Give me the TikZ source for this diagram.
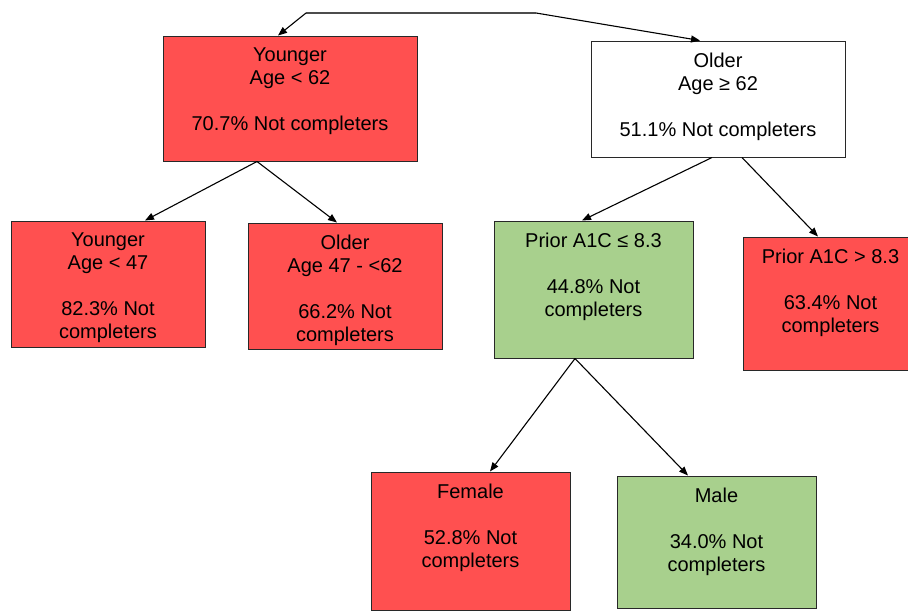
\documentclass[tikz,border=0pt]{standalone}
\usepackage{fontspec}
\setmainfont{Liberation Sans}
\usetikzlibrary{arrows.meta}
\definecolor{boxred}{RGB}{255,80,80}
\definecolor{boxgreen}{RGB}{168,208,141}
\definecolor{edge}{RGB}{40,40,40}
\begin{document}
\begin{tikzpicture}[x=1pt,y=-1pt,
  box/.style={draw=edge,line width=1pt,inner sep=0pt,rectangle},
  rbox/.style={box,fill=boxred},
  gbox/.style={box,fill=boxgreen},
  wbox/.style={box,fill=white},
  txt/.style={align=center,inner sep=0pt,anchor=north,yshift=-12pt,font=\fontsize{20}{23}\selectfont},
  arr/.style={line width=1.1pt,-{Triangle[length=9pt,width=7pt]}}]
\useasboundingbox (0,0) rectangle (908,611);
\clip (0,0) rectangle (908,611);
% boxes
\node[rbox,minimum width=254pt,minimum height=125pt] (yng) at (290,98.5) {};
\node[wbox,minimum width=254pt,minimum height=116pt] (old) at (718,99) {};
\node[rbox,minimum width=194pt,minimum height=126pt] (y47) at (108,284) {};
\node[rbox,minimum width=194pt,minimum height=126pt] (o47) at (345,286) {};
\node[gbox,minimum width=199pt,minimum height=137pt] (ple) at (593.5,289.5) {};
\node[rbox,minimum width=175pt,minimum height=133pt] (pgt) at (830.5,303.5) {};
\node[rbox,minimum width=199pt,minimum height=138pt] (fem) at (470.5,541) {};
\node[gbox,minimum width=199pt,minimum height=132pt] (mal) at (716.5,542) {};
% texts
\node[txt] (tyng) at (yng.north) {Younger\\Age < 62\\[23pt]70.7\% Not completers};
\node[txt] (told) at (old.north) {Older\\Age ≥ 62\\[23pt]51.1\% Not completers};
\node[txt] (ty47) at (y47.north) {Younger\\Age < 47\\[23pt]82.3\% Not\\completers};
\node[txt] (to47) at (o47.north) {Older\\Age 47 - <62\\[23pt]66.2\% Not\\completers};
\node[txt] (tple) at (ple.north) {Prior A1C ≤ 8.3\\[23pt]44.8\% Not\\completers};
\node[txt] (tpgt) at (pgt.north) {Prior A1C > 8.3\\[23pt]63.4\% Not\\completers};
\node[txt] (tfem) at (fem.north) {Female\\[23pt]52.8\% Not\\completers};
\node[txt] (tmal) at (mal.north) {Male\\[23pt]34.0\% Not\\completers};
% top connector
\coordinate (tl) at (306,13);
\coordinate (tr) at (536,13);
\draw[line width=1.1pt,draw=black!70] (tl) -- (tr);
\draw[arr] (tl) -- (278,0 |- yng.north);
\draw[arr] (tr) -- (700,0 |- old.north);
% tree connectors
\draw[arr] (257,0 |- yng.south) -- (145,0 |- y47.north);
\draw[arr] (257,0 |- yng.south) -- (337,0 |- o47.north);
\draw[arr] (712,0 |- old.south) -- (582,0 |- ple.north);
\draw[arr] (742,0 |- old.south) -- (818,0 |- pgt.north);
\draw[arr] (575,0 |- ple.south) -- (490,0 |- fem.north);
\draw[arr] (575,0 |- ple.south) -- (688,0 |- mal.north);
\end{tikzpicture}
\end{document}
